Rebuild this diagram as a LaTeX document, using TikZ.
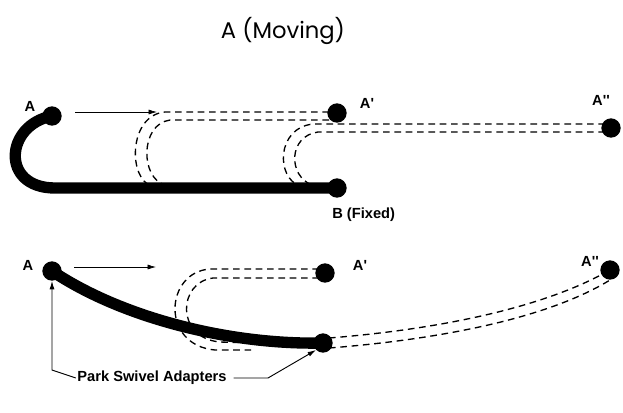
\documentclass[tikz,border=0pt]{standalone}
\usepackage{fontspec}
\setsansfont{Liberation Sans}
\newfontfamily\titlefont{Poppins}
\usepackage{tikz}
\usetikzlibrary{
  arrows.meta,
  positioning
}
\definecolor{HoseBlack}{HTML}{000000}
\tikzset{
  swivel/.style={
    circle,
    fill=HoseBlack,
    inner sep=0pt,
    minimum size=14.5pt
  },
  hose/.style={
    draw=HoseBlack,
    line width=8.5pt
  },
  ghost/.style={
    draw=HoseBlack,
    line width=1pt,
    dash pattern=on 5pt off 3.5pt
  },
  lbl/.style={
    font=\sffamily\bfseries\fontsize{11}{13}\selectfont,
    inner sep=1pt
  },
  pointer/.style={
    -{Latex[length=2.2mm,width=1.3mm]},
    line width=0.7pt
  }
}

\begin{document}
\begin{tikzpicture}[
  x=0.75pt,
  y=-0.75pt
]
  \useasboundingbox (0,0) rectangle (623,412);

  \node[font=\titlefont\fontsize{17}{20}\selectfont] (title) at (283,31) {A (Moving)};

  % upper loop
  \node[swivel] (A1) at (52,116) {};
  \node[swivel] (B1) at (337,188) {};
  \node[swivel] (A1p) at (337,113) {};
  \node[swivel] (A1pp) at (611,128) {};
  \node[lbl] (A1lbl) at (30,106) {A};
  \node[lbl, below=6pt of B1, xshift=20pt] (B1lbl) {B (Fixed)};
  \node[lbl] (A1plbl) at (367,103) {A\textquotesingle};
  \node[lbl] (A1pplbl) at (601,100) {A\textquotesingle\textquotesingle};

  \coordinate (mv1s) at (75,112);
  \coordinate (mv1e) at (157,112);
  \draw[pointer, line width=0.5pt] (mv1s) -- (mv1e);

  \draw[ghost] (A1p.center) ++(-8,-1) -- (165,112)
    .. controls (128,115) and (128,180) .. (152,186);
  \draw[ghost] (A1p.center) ++(-8,7) -- (170,120)
    .. controls (140,124) and (140,178) .. (165,185);
  \draw[ghost] (A1pp.center) ++(-6,-4) -- (313,124)
    .. controls (276,128) and (276,178) .. (300,186);
  \draw[ghost] (A1pp.center) ++(-6,4) -- (318,132)
    .. controls (288,136) and (288,176) .. (312,185);

  \draw[hose] (A1.center) .. controls (5,125) and (0,188) .. (55,188) -- (B1.center);

  % lower sweep
  \node[swivel] (A2) at (52,271) {};
  \node[swivel] (B2) at (323,343) {};
  \node[swivel] (A2p) at (325,273) {};
  \node[swivel] (A2pp) at (610,270) {};
  \node[lbl] (A2lbl) at (28,265) {A};
  \node[lbl] (A2plbl) at (360,265) {A\textquotesingle};
  \node[lbl] (A2pplbl) at (590,261) {A\textquotesingle\textquotesingle};

  \coordinate (mv2s) at (74,267);
  \coordinate (mv2e) at (156,267);
  \draw[pointer, line width=0.5pt] (mv2s) -- (mv2e);

  \draw[ghost] (A2p.center) ++(-6,-4) -- (210,269)
    .. controls (165,272) and (160,345) .. (215,350) -- (255,350);
  \draw[ghost] (A2p.center) ++(-6,5) -- (213,278)
    .. controls (178,282) and (175,338) .. (220,342) -- (255,343);
  \draw[ghost] (B2.center) ++(6,-5) .. controls (430,330) and (540,310) .. (A2pp.center);
  \draw[ghost] (B2.center) ++(6,5) .. controls (432,340) and (545,320) .. ([yshift=-7.5pt]A2pp.center);

  \draw[hose] (A2.center) .. controls (122,318) and (230,345) .. (B2.center);

  % adapters callout
  \node[lbl] (park) at (152,378) {Park Swivel Adapters};
  \coordinate (parkl) at (52,370);
  \coordinate (parkr) at (268,378);
  \draw[pointer] (park.west) -- (parkl) -- (A2.south);
  \draw[pointer] ([xshift=4pt]park.east) -- (parkr) -- (B2.south west);
\end{tikzpicture}
\end{document}
